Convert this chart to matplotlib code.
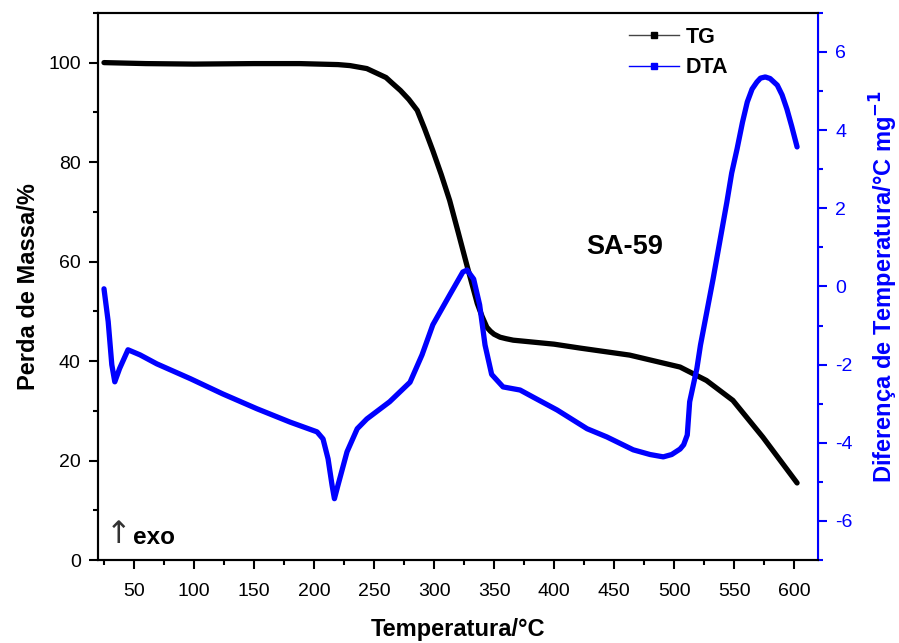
import matplotlib.pyplot as plt
from matplotlib.lines import Line2D
from matplotlib.ticker import MultipleLocator

plt.rcParams['font.family'] = ['Liberation Sans', 'DejaVu Sans']
plt.rcParams['axes.unicode_minus'] = False

# TG curve (mass %)
tg_temp = [25, 60, 100, 150, 188, 220, 230, 244, 252, 260, 265, 272, 279, 286,
           292, 299, 306, 313, 320, 327, 336, 340, 344, 347, 350, 355, 360,
           366, 400, 422, 463, 505, 527, 549, 574, 602.5]
tg_mass = [100.0, 99.8, 99.7, 99.8, 99.8, 99.6, 99.4, 98.8, 97.9, 97.0, 95.9,
           94.4, 92.6, 90.4, 86.8, 82.3, 77.5, 72.3, 66.0, 59.6, 51.6, 49.0,
           46.8, 46.0, 45.4, 44.8, 44.5, 44.2, 43.4, 42.6, 41.2, 38.8, 36.1,
           32.1, 24.7, 15.5]

# DTA curve (°C mg-1)
dta_temp = [25, 28.5, 31.5, 34, 38, 45, 55, 69, 97, 124, 152.5, 180, 202.5,
            207.5, 211.7, 215, 217, 220, 227.5, 236, 244, 263, 280, 290, 299,
            313, 324, 327.5, 333, 338, 342.5, 348, 357.5, 371.7, 382.5, 402.5,
            427.5, 444, 466, 480, 491, 498, 505, 508, 511, 513, 519, 522,
            532.5, 544, 548, 552.5, 557, 561, 565, 569, 572, 576, 580, 586,
            590, 594, 598, 602.5]
dta_val = [-0.06, -0.9, -2.0, -2.44, -2.1, -1.62, -1.75, -1.98, -2.36, -2.75,
           -3.13, -3.47, -3.72, -3.9, -4.41, -5.08, -5.43, -5.08, -4.23, -3.64,
           -3.39, -2.95, -2.45, -1.75, -0.98, -0.22, 0.37, 0.42, 0.19, -0.47,
           -1.5, -2.25, -2.57, -2.65, -2.83, -3.16, -3.64, -3.85, -4.18, -4.3,
           -4.36, -4.3, -4.16, -4.05, -3.8, -2.95, -2.1, -1.5, 0.19, 2.16, 2.9,
           3.52, 4.2, 4.72, 5.05, 5.23, 5.33, 5.36, 5.32, 5.15, 4.9, 4.54, 4.1,
           3.57]

fig = plt.figure(figsize=(8.99, 6.43), dpi=100)
ax = fig.add_axes([0.109, 0.129, 0.801, 0.851])
ax2 = ax.twinx()

ax.plot(tg_temp, tg_mass, color='black', lw=3.8, solid_capstyle='round',
        solid_joinstyle='round')
ax2.plot(dta_temp, dta_val, color='#0000ff', lw=3.8, solid_capstyle='round',
         solid_joinstyle='round')

ax.set_xlim(20, 620)
ax.set_ylim(0, 110)
ax2.set_ylim(-7, 7)

ax.xaxis.set_major_locator(MultipleLocator(50))
ax.xaxis.set_minor_locator(MultipleLocator(25))
ax.yaxis.set_major_locator(MultipleLocator(20))
ax.yaxis.set_minor_locator(MultipleLocator(10))
ax2.yaxis.set_major_locator(MultipleLocator(2))
ax2.yaxis.set_minor_locator(MultipleLocator(1))

ax.set_xticks([50, 100, 150, 200, 250, 300, 350, 400, 450, 500, 550, 600])
ax.tick_params(axis='both', which='major', length=6.5, width=1.5, labelsize=14)
ax.tick_params(axis='both', which='minor', length=3.5, width=1.5)
ax.tick_params(axis='x', which='major', pad=10)
ax.tick_params(axis='y', which='major', pad=6)
ax.tick_params(top=False, right=False)
ax2.tick_params(axis='y', which='major', length=6.5, width=1.5, labelsize=14,
                colors='#0000ff', pad=6)
ax2.tick_params(axis='y', which='minor', length=3.5, width=1.5, colors='#0000ff')

for s in ['left', 'bottom', 'top']:
    ax.spines[s].set_linewidth(1.5)
ax2.spines['right'].set_color('#0000ff')
for s in ['right', 'top', 'left', 'bottom']:
    ax2.spines[s].set_linewidth(1.5)

ax.set_xlabel('Temperatura/°C', fontsize=17, fontweight='bold', labelpad=13)
ax.set_ylabel('Perda de Massa/%', fontsize=17, fontweight='bold', labelpad=6)
ax2.set_ylabel('Diferença de Temperatura/°C mg$^{\\mathbf{-1}}$', fontsize=17,
               fontweight='bold', color='#0000ff', labelpad=11)

ax.text(459, 63, 'SA-59', fontsize=19.5, fontweight='bold', ha='center',
        va='center')
ax.text(37.5, 5.1, '↑', fontsize=22, ha='center', va='center', color='#333333',
        family=['DejaVu Sans'])
ax.text(49, 4.6, 'exo', fontsize=17.5, fontweight='bold', ha='left', va='center')

handles = [Line2D([], [], color='#444444', lw=1, marker='s', ms=4,
                  markerfacecolor='black', markeredgecolor='black'),
           Line2D([], [], color='#0000ff', lw=1, marker='s', ms=4)]
leg = ax.legend(handles, ['TG', 'DTA'], loc='upper left',
                bbox_to_anchor=(0.711, 1.01), frameon=False, handlelength=2.3,
                handletextpad=0.3, fontsize=15.5, labelspacing=0.45)
for t in leg.get_texts():
    t.set_fontweight('bold')

fig.savefig('out.png', dpi=100)
